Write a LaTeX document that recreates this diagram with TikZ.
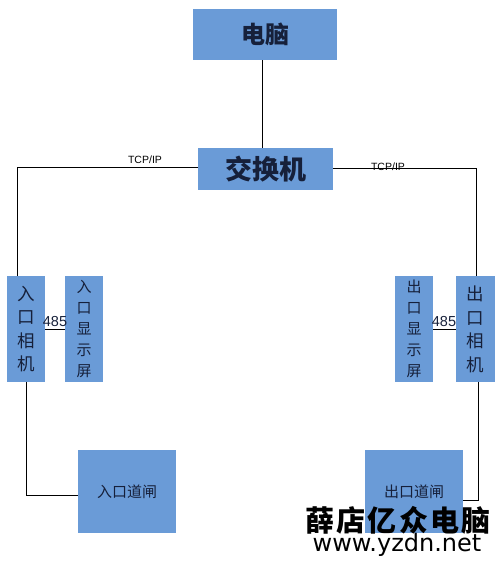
\documentclass[tikz,border=0pt]{standalone}
\usepackage{fontspec}
\setmainfont{Noto Sans CJK SC}
\newfontfamily\cjkb{Noto Sans CJK SC}[LetterSpace=8]
\newfontfamily\latin{Liberation Sans}
\newfontfamily\url{DejaVu Sans}
\definecolor{boxblue}{RGB}{106,155,215}
\definecolor{ink}{RGB}{22,32,58}
\tikzset{
  box/.style={draw=none, fill=boxblue, text=ink, inner sep=0pt, anchor=north west},
  link/.style={draw=black, line width=0.9pt},
  lbl/.style={font=\latin\fontsize{10.5}{11}\selectfont, text=black, inner sep=0pt},
}
\begin{document}
\begin{tikzpicture}[x=1pt,y=-1pt]
\useasboundingbox (0,0) rectangle (500,563);
% boxes
\node[box, minimum width=144pt, minimum height=51pt, font=\fontsize{24}{26}\selectfont\bfseries] (pc) at (193,9) {电脑};
\node[box, minimum width=135pt, minimum height=42pt, font=\fontsize{27}{29}\selectfont\bfseries] (sw) at (198,148) {交换机};
\node[box, minimum width=38pt, minimum height=106pt, align=center, font=\fontsize{17.5}{23.5}\selectfont] (incam) at (7,276) {入\\口\\相\\机};
\node[box, minimum width=38pt, minimum height=106pt, align=center, font=\fontsize{15}{21}\selectfont] (indisp) at (65,276) {入\\口\\显\\示\\屏};
\node[box, minimum width=38pt, minimum height=106pt, align=center, font=\fontsize{15}{21}\selectfont] (outdisp) at (395,276) {出\\口\\显\\示\\屏};
\node[box, minimum width=39pt, minimum height=106pt, align=center, font=\fontsize{17.5}{23.5}\selectfont] (outcam) at (456,276) {出\\口\\相\\机};
\node[box, minimum width=98pt, minimum height=83pt, font=\fontsize{15}{17}\selectfont] (ingate) at (78,450) {入口道闸};
\node[box, minimum width=98pt, minimum height=83pt, font=\fontsize{15}{17}\selectfont] (outgate) at (365,450) {出口道闸};
% connector corners
\coordinate (c1) at (17,167);
\coordinate (c2) at (476,168);
\coordinate (c3) at (26,495);
\coordinate (c4) at (478,500);
% connectors
\draw[link] (pc.south -| 262,0) -- (sw.north -| 262,0);
\draw[link] (sw.west |- c1) -- (c1) -- (c1 |- incam.north);
\draw[link] (sw.east |- c2) -- (c2) -- (c2 |- outcam.north);
\draw[link] (c3 |- incam.south) -- (c3) -- (c3 -| ingate.west);
\draw[link] (c4 |- outcam.south) -- (c4) -- (c4 -| outgate.east);
\draw[link] (incam.east |- 0,329) -- (indisp.west |- 0,329);
\draw[link] (outdisp.east |- 0,329) -- (outcam.west |- 0,329);
% labels
\node[lbl] (t1) at (145,160) {TCP/IP};
\node[lbl] (t2) at (388,167) {TCP/IP};
\node[inner sep=0pt, font=\latin\fontsize{14.5}{15}\selectfont, text=ink] (n1) at (55,322) {485};
\node[inner sep=0pt, font=\latin\fontsize{14.5}{15}\selectfont, text=ink] (n2) at (444,322) {485};
% watermark
\node[inner sep=0pt, font=\cjkb\fontsize{29}{30}\selectfont\bfseries, text=black] (wm) at (398,520) {薛店亿众电脑};
\node[inner sep=0pt, font=\url\fontsize{24}{25}\selectfont, text=black] (wu) at (397,545) {www.yzdn.net};
\end{tikzpicture}
\end{document}
